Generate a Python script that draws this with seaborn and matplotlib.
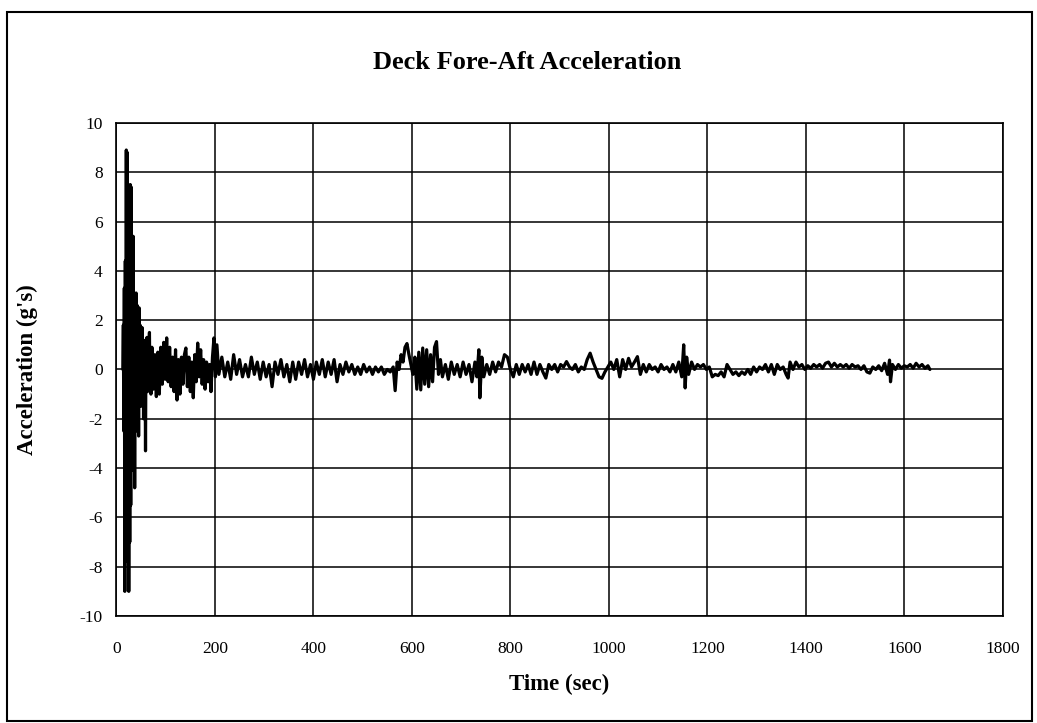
import matplotlib
matplotlib.use("Agg")
import matplotlib.pyplot as plt
import seaborn as sns
import pandas as pd
from matplotlib.patches import Rectangle

# initial impact burst
t_burst = [13, 14, 15, 16, 17, 18, 19, 20, 21, 22, 23, 24, 25, 26, 27, 28, 29, 30,
           31, 32, 33, 34, 35, 36, 37, 38, 39, 40, 41, 42, 43, 44, 45, 46, 47, 48,
           49, 50, 51, 52, 53, 54, 55, 56, 57, 58, 59, 60, 61, 62, 63, 64, 65, 66,
           67, 68, 69, 70]
a_burst = [0.0, 1.8, -2.5, 3.3, -9.0, 4.4, -5.0, 8.9, -6.5, 8.8, -7.8, 7.0, -9.0, 6.2,
           -7.0, 7.5, -5.5, 7.4, -4.1, 4.4, -3.5, 5.4, -3.0, 3.1, -4.8, 2.7, -2.5, 3.1,
           -2.0, 2.6, -1.6, 2.2, -2.7, 2.5, -1.2, 1.8, -1.5, 1.6, -1.0, 1.7, -1.4, 1.2,
           -2.0, 1.0, -1.2, 0.9, -3.3, 1.2, -0.6, 1.3, -0.9, 0.8, -0.5, 1.0, 1.5, -0.7,
           0.6, -1.0]

# decay
t_decay = [72, 75, 78, 81, 84, 87, 90, 93, 96, 99, 102, 105, 108, 111, 114, 117, 120,
           123, 126, 129, 132, 135, 138, 141, 144, 147, 150, 153, 156, 159, 162, 165,
           168, 171, 174, 177, 180, 183, 186, 189, 192, 195, 198, 201, 204]
a_decay = [0.9, -0.8, 0.6, -1.1, 0.7, -1.0, 0.9, -0.6, 1.1, -0.4, 1.28, -0.5, 0.9, -0.7,
           0.5, -0.9, 0.8, -1.24, 0.4, -1.0, 0.5, -0.6, 0.6, 0.87, -0.7, 0.5, -0.9, 0.3,
           -1.15, 0.6, -0.5, 1.07, -0.3, 0.8, -0.6, 0.4, -0.8, 0.3, -0.5, 0.2, -0.9, 0.5,
           1.28, -0.3, 1.0]

# rest of the record
t_tail = [208, 214, 220, 226, 232, 238, 244, 250, 256, 262, 268, 274, 280, 286, 292, 298,
          304, 310, 316, 322, 328, 334, 340, 346, 352, 358, 364, 370, 376, 382, 388, 394,
          400, 406, 412, 418, 424, 430, 436, 442, 448, 454, 460, 466, 472, 478, 484, 490,
          496, 502, 508, 514, 520, 526, 532, 538, 544, 550, 556, 562, 566, 570, 574, 578,
          582, 586, 590, 594, 598, 602, 606, 610, 614, 618, 622, 626, 630, 634, 638, 642,
          646, 650, 654, 658, 662, 668, 674, 680, 686, 692, 698, 704, 710, 716, 722, 728,
          732, 736, 738, 742, 746, 752, 758, 764, 770, 776, 782, 788, 794, 800, 806, 812,
          818, 824, 830, 836, 842, 848, 854, 860, 866, 872, 878, 884, 890, 896, 902, 908,
          914, 920, 926, 932, 938, 944, 950, 956, 962, 968, 974, 980, 986, 992, 998, 1004,
          1010, 1016, 1022, 1028, 1034, 1040, 1046, 1052, 1058, 1064, 1070, 1076, 1082,
          1088, 1094, 1100, 1106, 1112, 1118, 1124, 1130, 1136, 1142, 1148, 1152, 1155,
          1158, 1162, 1168, 1174, 1180, 1186, 1192, 1198, 1204, 1210, 1216, 1222, 1228,
          1234, 1240, 1246, 1252, 1258, 1264, 1270, 1276, 1282, 1288, 1294, 1300, 1306,
          1312, 1318, 1324, 1330, 1336, 1342, 1348, 1354, 1360, 1364, 1368, 1374, 1380,
          1386, 1392, 1398, 1404, 1410, 1416, 1422, 1428, 1434, 1440, 1446, 1452, 1458,
          1464, 1470, 1476, 1482, 1488, 1494, 1500, 1506, 1512, 1518, 1524, 1530, 1536,
          1542, 1548, 1554, 1560, 1566, 1570, 1572, 1576, 1582, 1588, 1594, 1600, 1606,
          1612, 1618, 1624, 1630, 1636, 1642, 1648, 1652]
a_tail = [-0.2, 0.5, -0.3, 0.3, -0.4, 0.6, -0.2, 0.4, -0.3, 0.2, -0.3, 0.5, -0.2, 0.3,
          -0.4, 0.3, -0.3, 0.2, -0.7, 0.3, -0.2, 0.4, -0.3, 0.2, -0.5, 0.3, -0.4, 0.3,
          -0.2, 0.4, -0.3, 0.2, -0.4, 0.3, -0.2, 0.4, -0.3, 0.3, -0.2, 0.4, -0.5, 0.2,
          -0.2, 0.3, -0.1, 0.2, -0.2, 0.1, -0.2, 0.2, -0.1, 0.1, -0.2, 0.1, -0.1, 0.1,
          -0.2, 0.0, -0.1, 0.1, -0.86, 0.3, 0.0, 0.6, 0.3, 0.9, 1.05, 0.6, 0.2, -0.2, 0.5,
          -0.8, 0.7, -0.83, 0.87, -0.6, 0.8, -0.7, 0.6, -0.5, 0.9, 1.13, -0.2, 0.4, -0.3,
          0.2, -0.4, 0.3, -0.2, 0.2, -0.3, 0.3, -0.2, 0.2, -0.5, 0.3, -0.3, 0.8, -1.15,
          0.5, -0.3, 0.2, -0.2, 0.3, -0.1, 0.3, 0.1, 0.6, 0.5, 0.0, -0.3, 0.2, -0.2, 0.2,
          -0.1, 0.2, -0.2, 0.3, -0.2, 0.2, -0.1, -0.35, 0.2, 0.0, 0.2, -0.1, 0.2, 0.1,
          0.32, 0.1, 0.0, 0.2, -0.1, 0.1, 0.0, 0.4, 0.66, 0.3, 0.0, -0.3, -0.36, -0.1, 0.1,
          0.3, 0.0, 0.4, -0.3, 0.4, 0.0, 0.45, 0.1, 0.3, 0.52, -0.2, 0.2, -0.1, 0.2, 0.0,
          0.1, -0.1, 0.2, 0.0, 0.1, -0.1, 0.2, -0.1, 0.3, -0.3, 1.0, -0.75, 0.5, -0.2,
          0.3, 0.0, 0.2, 0.1, 0.2, 0.0, 0.1, -0.3, -0.2, -0.25, -0.1, -0.3, 0.2, 0.0,
          -0.2, -0.1, -0.25, -0.1, -0.2, 0.0, -0.2, 0.1, -0.1, 0.1, 0.0, 0.2, -0.1, 0.2,
          -0.2, 0.2, 0.0, 0.1, -0.2, -0.35, 0.3, 0.0, 0.3, 0.1, 0.2, 0.0, 0.15, 0.05, 0.2,
          0.1, 0.2, 0.05, 0.25, 0.3, 0.1, 0.25, 0.1, 0.2, 0.1, 0.2, 0.05, 0.2, 0.1, 0.15,
          0.0, 0.15, -0.1, -0.15, 0.1, 0.0, 0.15, -0.05, 0.25, -0.2, 0.38, -0.5, 0.2, 0.0,
          0.2, 0.05, 0.15, 0.1, 0.2, 0.05, 0.25, 0.1, 0.2, 0.05, 0.15, 0.0]

x_ticks = [0, 200, 400, 600, 800, 1000, 1200, 1400, 1600, 1800]
y_ticks = [-10, -8, -6, -4, -2, 0, 2, 4, 6, 8, 10]

df = pd.DataFrame({
    "time": t_burst + t_decay + t_tail,
    "accel": a_burst + a_decay + a_tail,
})

sns.set_style("white")
plt.rcParams["font.family"] = ["Liberation Serif", "DejaVu Serif"]
plt.rcParams["axes.unicode_minus"] = False
plt.rcParams["text.color"] = "black"
plt.rcParams["axes.labelcolor"] = "black"

fig = plt.figure(figsize=(10.37, 7.23), dpi=100)
ax = fig.add_axes([0.1123, 0.148, 0.8547, 0.682])

sns.lineplot(data=df, x="time", y="accel", color="black", linewidth=2.3,
             estimator=None, sort=False, ax=ax)

ax.set_xlim(0, 1800)
ax.set_ylim(-10, 10)
ax.set_xticks(x_ticks)
ax.set_yticks(y_ticks)
ax.set_xticklabels([str(v) for v in x_ticks])
ax.set_yticklabels([str(v) for v in y_ticks])
ax.grid(True, color="black", linewidth=1.1)
ax.set_axisbelow(True)
for s in ax.spines.values():
    s.set_color("black")
    s.set_linewidth(1.2)
ax.tick_params(axis="both", direction="out", length=4, width=1, color="black",
               labelsize=12.5, labelcolor="black")
ax.tick_params(axis="x", pad=14)
ax.tick_params(axis="y", pad=6)

ax.set_xlabel("Time (sec)", fontsize=16.5, fontweight="bold", color="black")
ax.set_ylabel("Acceleration (g's)", fontsize=16.5, fontweight="bold", color="black")
ax.xaxis.set_label_coords(0.5, -0.118)
ax.yaxis.set_label_coords(-0.088, 0.5)

fig.text(0.508, 0.913, "Deck Fore-Aft Acceleration", ha="center", va="center",
         fontsize=19, fontweight="bold", color="black")

fig.patches.append(Rectangle((0.0068, 0.003), 0.988, 0.981, transform=fig.transFigure,
                             fill=False, edgecolor="black", linewidth=1.5))

fig.savefig("out.png", dpi=100)
